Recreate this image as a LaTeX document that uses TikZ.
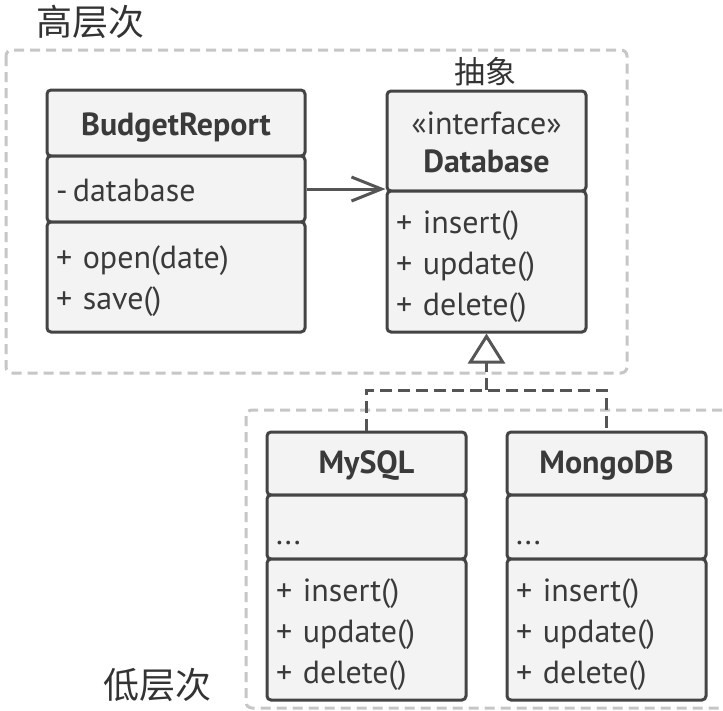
\documentclass[tikz,border=0pt]{standalone}
\usepackage{fontspec}
\setmainfont{PT Sans}
\newfontfamily\cjkfont{Noto Sans CJK SC}
\usetikzlibrary{arrows.meta}
\definecolor{boxline}{HTML}{444444}
\definecolor{boxfill}{HTML}{F3F3F3}
\definecolor{txt}{HTML}{3A3A3A}
\definecolor{regionline}{HTML}{C6C6C6}
\definecolor{conn}{HTML}{555555}
\definecolor{lbl}{HTML}{333333}
% first-line strut that pushes the text block down by half its extra height
\newcommand\downstrut[1]{\rule{0pt}{\dimexpr 0.7\baselineskip+#1\relax}}
\begin{document}
\begin{tikzpicture}[x=1pt,y=-1pt,
  comp/.style={draw=boxline, fill=boxfill, line width=3pt, rounded corners=4pt,
    inner xsep=9pt, inner ysep=0pt, text=txt, align=left,
    font=\fontsize{32}{41}\selectfont},
  titlecomp/.style={comp, align=center, font=\fontsize{32}{41}\selectfont\bfseries},
  region/.style={draw=regionline, line width=3pt, dash pattern=on 10pt off 6pt, rounded corners=6pt},
  layerlabel/.style={text=lbl, inner sep=0pt, font=\cjkfont\fontsize{36}{40}\selectfont},
  assoc/.style={draw=conn, line width=3pt, -{Straight Barb[length=30pt,width=24pt,line width=3pt]}},
  realize/.style={draw=conn, line width=3pt, dash pattern=on 12pt off 6pt},
]
\useasboundingbox (0,0) rectangle (723,710);

% regions
\draw[region] (6,50) rectangle (627,373);
\draw[region] (246,410) rectangle (745,708);

% layer labels
\node[layerlabel] (hi) at (90,22) {高层次};
\node[layerlabel, font=\cjkfont\fontsize{31}{36}\selectfont] (abs) at (485,72) {抽象};
\node[layerlabel] (lo) at (157,685) {低层次};

% BudgetReport
\node[titlecomp, minimum width=258pt, minimum height=66pt, text width=240pt] (br1) at (176,123) {\downstrut{9pt}BudgetReport\strut};
\node[comp, minimum width=258pt, minimum height=66pt, text width=240pt] (br2) at (176,189) {\downstrut{8pt}-\,database\strut};
\node[comp, minimum width=258pt, minimum height=110pt, text width=240pt] (br3) at (176,277) {\downstrut{8pt}+ open(date)\\+ save()\strut};

% Database
\node[titlecomp, minimum width=199pt, minimum height=100pt, text width=181pt, font=\fontsize{32}{38}\selectfont] (db1) at (486.5,141) {\downstrut{10pt}«interface»\\\textbf{Database}\strut};
\node[comp, minimum width=199pt, minimum height=141pt, text width=181pt] (db2) at (486.5,261.5) {\downstrut{10pt}+ insert()\\+ update()\\+ delete()\strut};

% MySQL
\node[titlecomp, minimum width=199pt, minimum height=63pt, text width=181pt] (my1) at (366.5,463.5) {\downstrut{3pt}MySQL\strut};
\node[comp, minimum width=199pt, minimum height=64pt, text width=181pt] (my2) at (366.5,527) {\downstrut{18pt}...\strut};
\node[comp, minimum width=199pt, minimum height=141pt, text width=181pt] (my3) at (366.5,629.5) {\downstrut{9pt}+ insert()\\+ update()\\+ delete()\strut};

% MongoDB
\node[titlecomp, minimum width=199pt, minimum height=63pt, text width=181pt] (mg1) at (606.5,463.5) {\downstrut{3pt}MongoDB\strut};
\node[comp, minimum width=199pt, minimum height=64pt, text width=181pt] (mg2) at (606.5,527) {\downstrut{18pt}...\strut};
\node[comp, minimum width=199pt, minimum height=141pt, text width=181pt] (mg3) at (606.5,629.5) {\downstrut{9pt}+ insert()\\+ update()\\+ delete()\strut};

% association
\draw[assoc] (br2.east) -- (br2.east -| db1.west);

% realization
\coordinate (j) at (486.5,390);
\draw[realize] (my1.north) |- (j) -| (mg1.north);
\draw[draw=conn, line width=3pt, dash pattern=on 12pt off 6pt,
  -{Triangle[length=30pt,width=37pt,fill=white,line width=3pt]}] (j) -- (db2.south);
\end{tikzpicture}
\end{document}
